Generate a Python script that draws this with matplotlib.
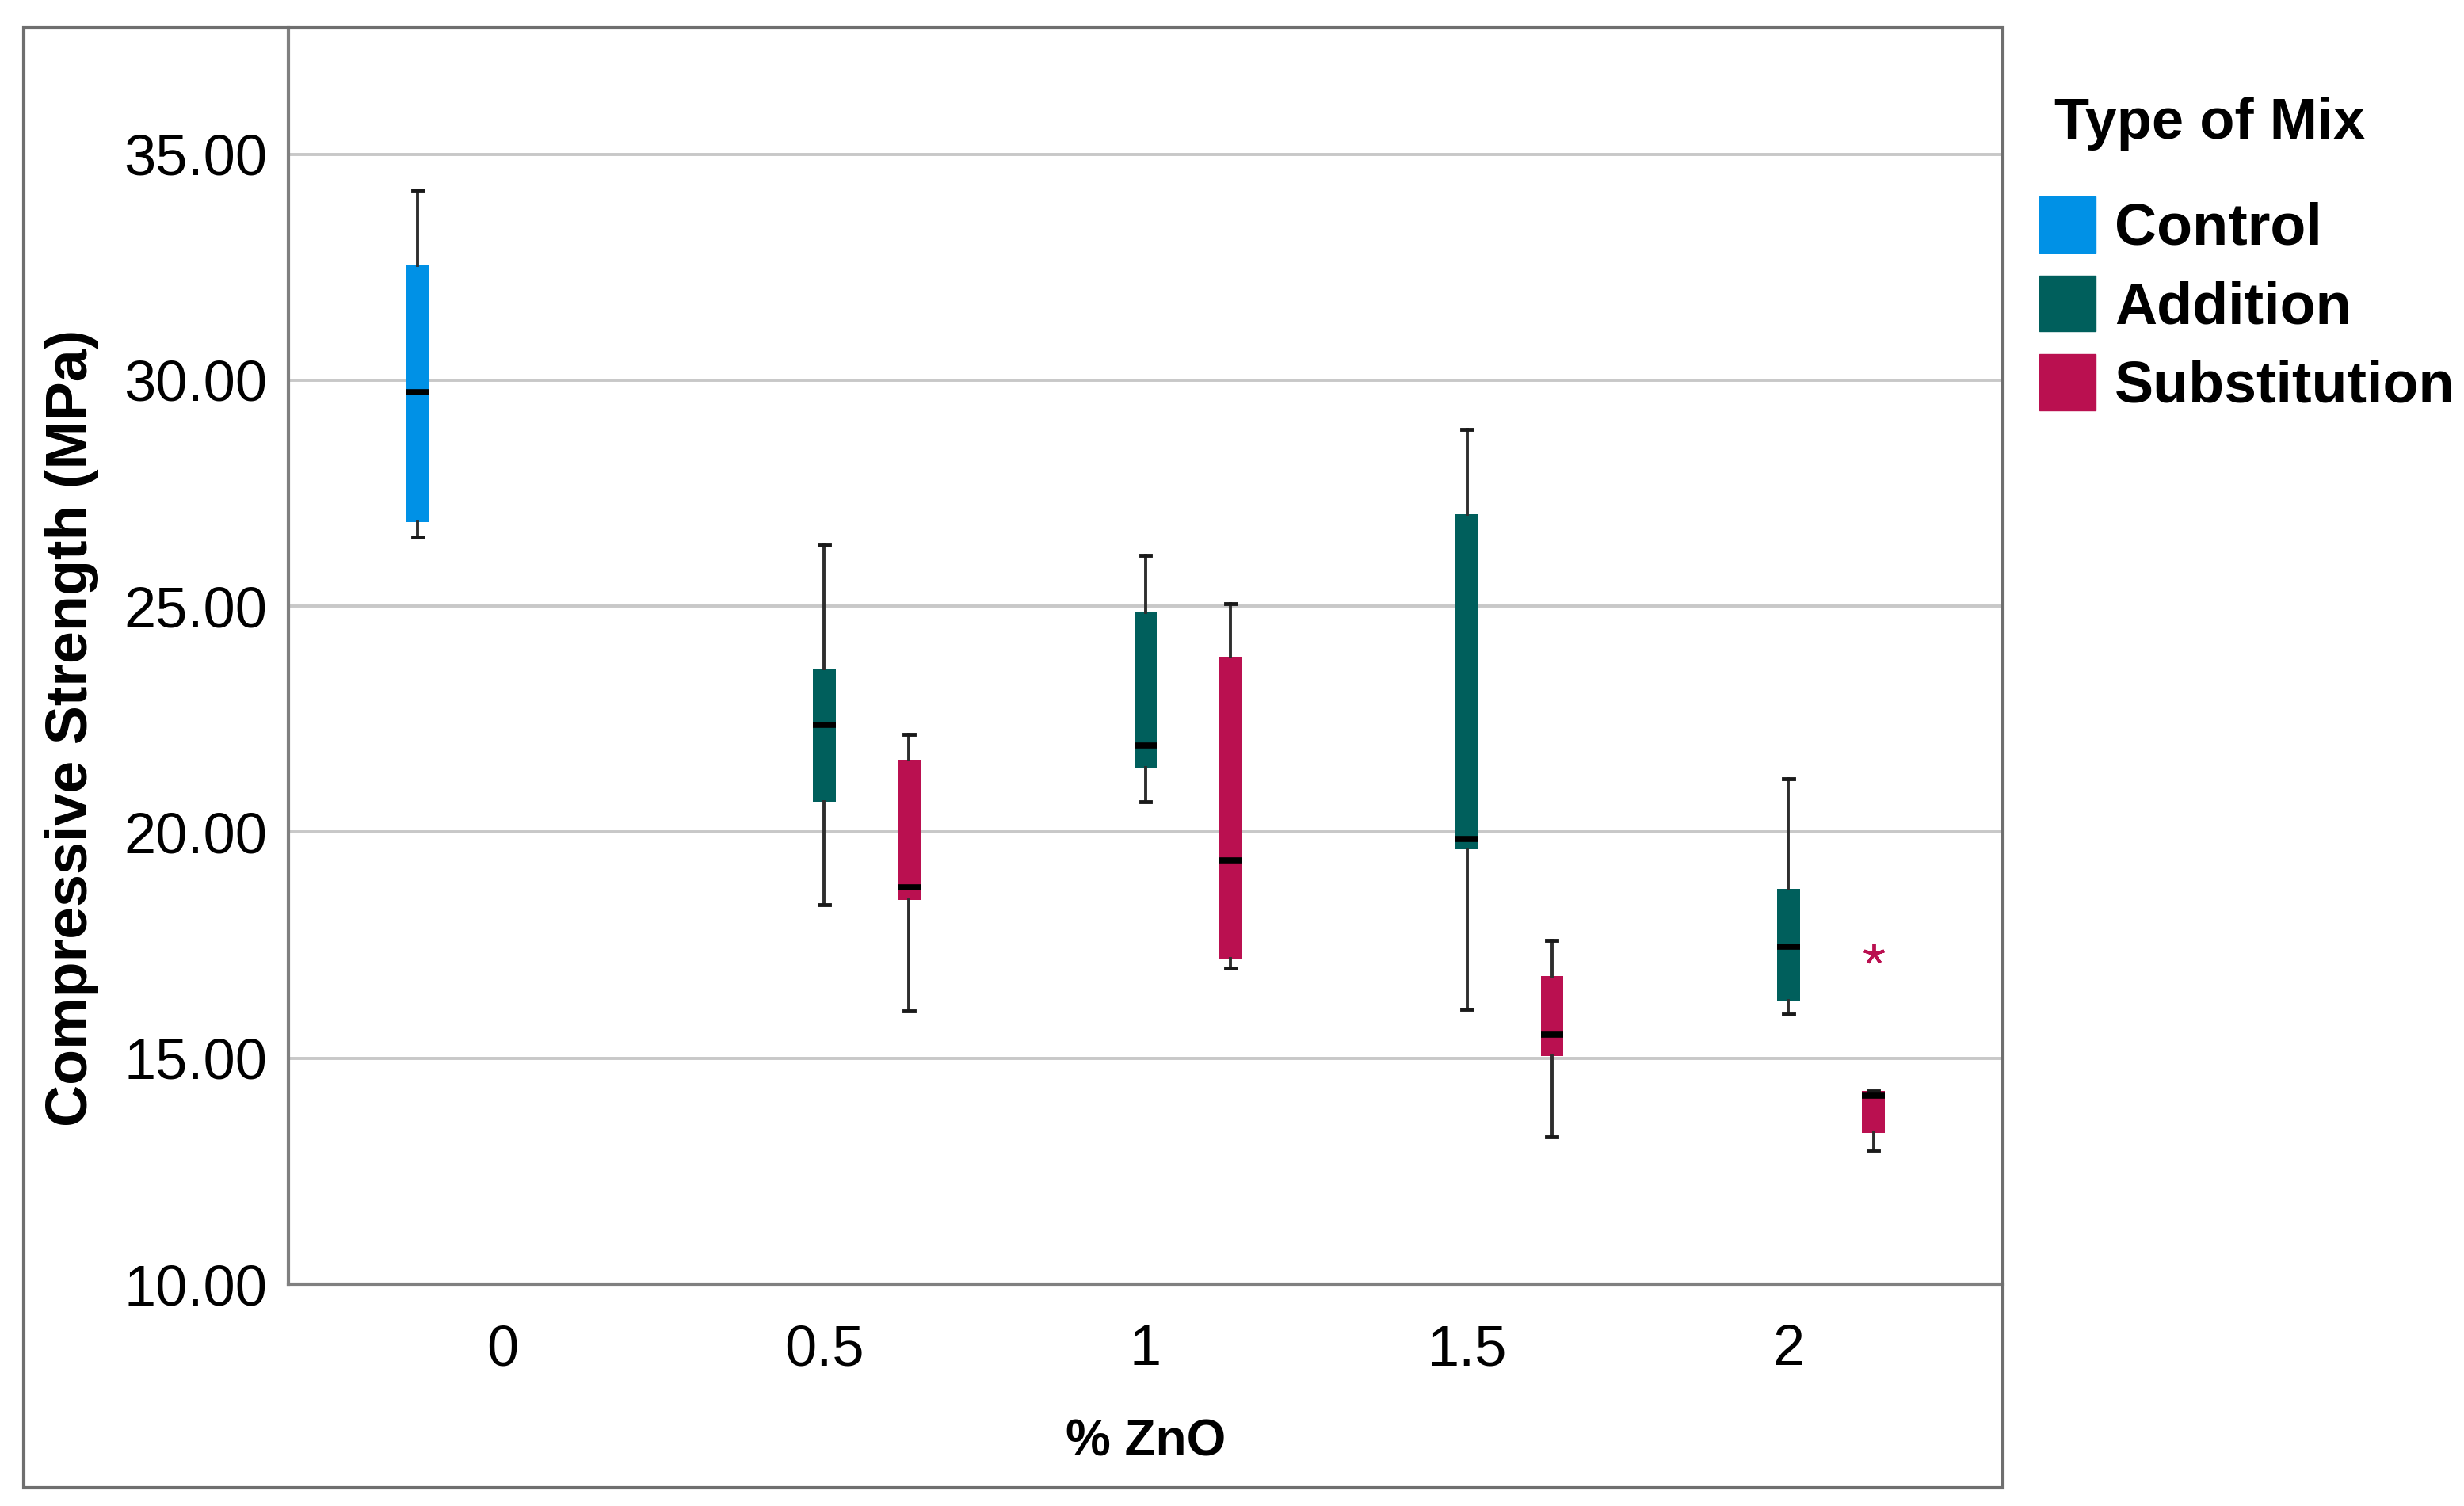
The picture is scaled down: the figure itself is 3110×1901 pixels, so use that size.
import numpy as np
import matplotlib.pyplot as plt
from matplotlib.patches import Patch, Rectangle

plt.rcParams['font.family'] = ['Liberation Sans', 'DejaVu Sans']

# data (MPa)
zno_levels = ['0', '0.5', '1', '1.5', '2']
mix_types = ['Control', 'Addition', 'Substitution']
mix_colors = ['#0091e6', '#005f5c', '#ba1050']

# Control only at 0 % ZnO
ctrl_whislo = [26.53]
ctrl_q1 = [26.86]
ctrl_med = [29.74]
ctrl_q3 = [32.55]
ctrl_whishi = [34.20]

# Addition at 0.5, 1, 1.5, 2 % ZnO
add_whislo = [18.40, 20.67, 16.09, 15.97]
add_q1 = [20.67, 21.42, 19.63, 16.27]
add_med = [22.37, 21.92, 19.85, 17.47]
add_q3 = [23.62, 24.87, 27.04, 18.75]
add_whishi = [26.35, 26.13, 28.92, 21.19]

# Substitution at 0.5, 1, 1.5, 2 % ZnO
sub_whislo = [16.04, 16.99, 13.26, 12.97]
sub_q1 = [18.51, 17.21, 15.04, 13.35]
sub_med = [18.79, 19.38, 15.52, 14.18]
sub_q3 = [21.61, 23.88, 16.81, 14.28]
sub_whishi = [22.16, 25.06, 17.60, 14.28]
sub_fliers = [[], [], [], [17.31]]


def make_stats(whislo, q1, med, q3, whishi, fliers=None):
    out = []
    for i in range(len(med)):
        out.append(dict(whislo=whislo[i], q1=q1[i], med=med[i], q3=q3[i],
                        whishi=whishi[i],
                        fliers=fliers[i] if fliers else []))
    return out


groups = [
    (make_stats(ctrl_whislo, ctrl_q1, ctrl_med, ctrl_q3, ctrl_whishi), [0], -0.264),
    (make_stats(add_whislo, add_q1, add_med, add_q3, add_whishi), [1, 2, 3, 4], 0.0),
    (make_stats(sub_whislo, sub_q1, sub_med, sub_q3, sub_whishi, sub_fliers), [1, 2, 3, 4], 0.264),
]

W, H = 3110, 1901
fig = plt.figure(figsize=(W / 100, H / 100), dpi=100)
ax = fig.add_axes([364 / W, 1 - 1621 / H, (2528 - 364) / W, (1621 - 35) / H])

for (stats, cats, off), col in zip(groups, mix_colors):
    pos = np.array(cats) + off
    ax.bxp(stats, positions=pos, widths=0.07, capwidths=0.032,
           patch_artist=True, showfliers=True,
           boxprops=dict(facecolor=col, edgecolor=col, linewidth=0),
           medianprops=dict(color='black', linewidth=5.5, solid_capstyle='butt'),
           whiskerprops=dict(color='#2e2e2e', linewidth=2.8),
           capprops=dict(color='#1a1a1a', linewidth=3.5),
           flierprops=dict(marker=(5, 2, 0), markersize=19, markeredgewidth=2.8,
                           markeredgecolor=col, markerfacecolor=col, linestyle='none'),
           manage_ticks=False, zorder=3)

ax.set_xlim(-0.667, 4.667)
ax.set_ylim(10, 37.8)
ax.set_xticks(range(len(zno_levels)))
ax.set_xticklabels(zno_levels)
ax.set_yticks([10, 15, 20, 25, 30, 35])
ax.set_yticklabels(['%.2f' % v for v in [10, 15, 20, 25, 30, 35]])
ax.tick_params(axis='both', length=0, labelsize=52, colors='black')
ax.tick_params(axis='y', pad=19)
ax.tick_params(axis='x', pad=36)

ax.yaxis.grid(True, color='#c8c8c8', linewidth=2.8)
ax.set_axisbelow(True)
for s in ['top', 'right']:
    ax.spines[s].set_visible(False)
for s in ['left', 'bottom']:
    ax.spines[s].set_color('#808080')
    ax.spines[s].set_linewidth(3)

ax.set_ylabel('Compressive Strength (MPa)', fontsize=53, fontweight='bold')
ax.yaxis.set_label_coords(-0.1105, 0.4426)
ax.set_xlabel('% ZnO', fontsize=46, fontweight='bold', labelpad=38)

# outer frame around the whole chart
fig.add_artist(Rectangle((30 / W, 1 - 1878 / H), (2528 - 30) / W, (1878 - 35) / H,
                         transform=fig.transFigure, fill=False,
                         edgecolor='#6f6f6f', linewidth=3))

# legend: title as its own text, entries below
fig.text(2593 / W, 1 - 175 / H, 'Type of Mix', fontsize=52, fontweight='bold',
         ha='left', va='baseline')
handles = [Patch(facecolor=c, edgecolor=c) for c in mix_colors]
fig.legend(handles, mix_types, loc='upper left',
           bbox_to_anchor=(2574 / W, 1 - 248 / H), frameon=False,
           prop={'weight': 'bold', 'size': 53},
           handlelength=0.96, handleheight=1.1,
           handletextpad=0.33, labelspacing=0.33, borderpad=0, borderaxespad=0)

fig.savefig('out.png', dpi=100)
